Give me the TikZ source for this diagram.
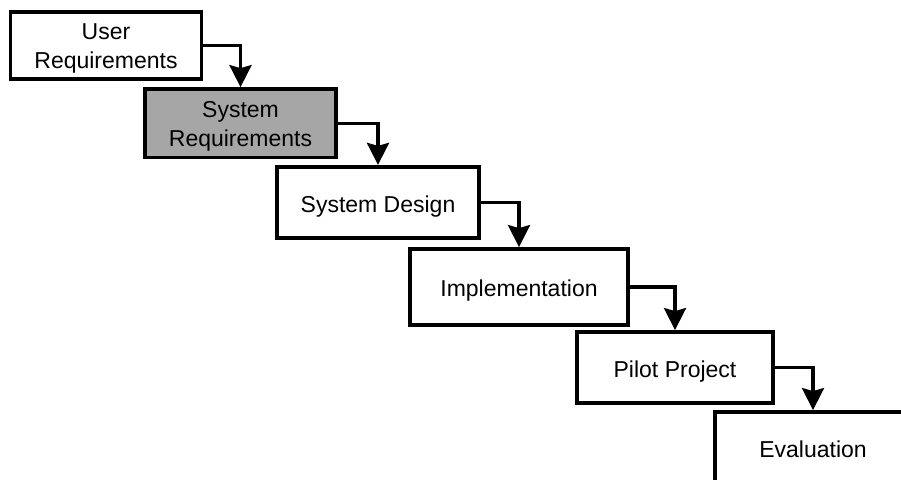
\documentclass[tikz,border=0pt]{standalone}
\usepackage{fontspec}
\setmainfont{Liberation Sans}
\usetikzlibrary{arrows.meta}
\definecolor{phasegray}{RGB}{166,166,166}
\tikzset{
  phase/.style={draw=black, line width=3.8pt, fill=white, align=center,
    inner sep=0pt, font=\fontsize{23}{29}\selectfont},
  oneline/.style={text height=21.5pt, text depth=2pt},
  twoline/.style={text height=46.5pt, text depth=0.5pt},
  flow/.style={line width=3.6pt, -{Stealth[width=22pt,length=22pt,inset=3pt]}}
}
\begin{document}
\begin{tikzpicture}[x=1pt,y=-1pt]
  \useasboundingbox (0,0) rectangle (901,479);
  \clip (0,0) rectangle (901,479);
  % waterfall stages
  \node[phase, twoline, minimum width=191pt, minimum height=67pt] (ur) at (106,45.5) {User\\Requirements};
  \node[phase, twoline, fill=phasegray, minimum width=191.5pt, minimum height=68.5pt] (sr) at (240.5,123.3) {System\\Requirements};
  \node[phase, oneline, minimum width=202pt, minimum height=71pt] (sd) at (378,202.3) {System Design};
  \node[phase, oneline, minimum width=218pt, minimum height=76pt] (im) at (519,287) {Implementation};
  \node[phase, oneline, minimum width=196pt, minimum height=71pt] (pp) at (675,367.5) {Pilot Project};
  \node[phase, oneline, minimum width=196pt, minimum height=72pt] (ev) at (813,448) {Evaluation};
  % stage-to-stage arrows
  \draw[flow] (ur.east) -| (sr.north);
  \draw[flow] (sr.east) -| (sd.north);
  \draw[flow] (sd.east) -| (im.north);
  \draw[flow] (im.east) -| (pp.north);
  \draw[flow] (pp.east) -| (ev.north);
\end{tikzpicture}
\end{document}
